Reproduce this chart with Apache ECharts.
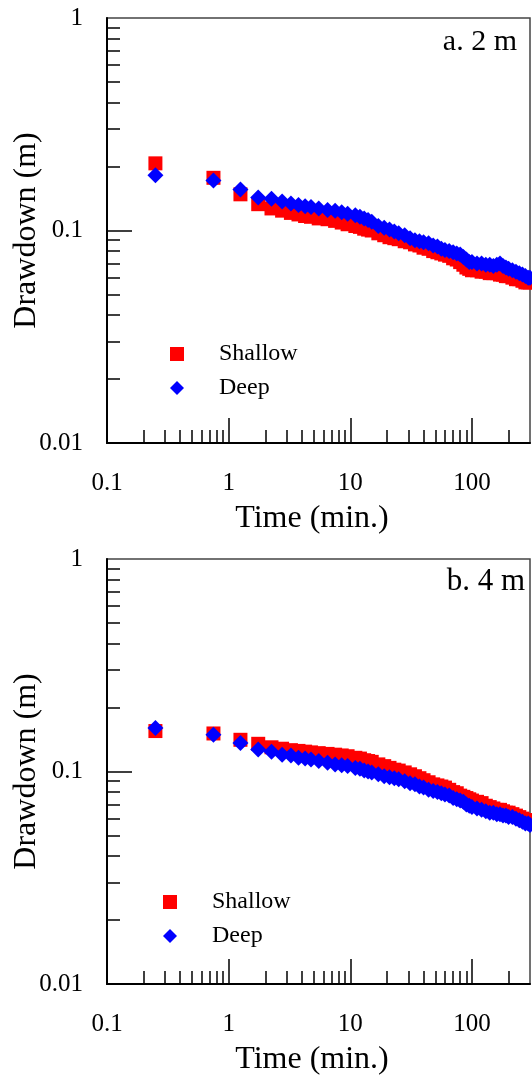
<!DOCTYPE html>
<html lang="en">
<head>
    <meta charset="UTF-8">
    <title>Drawdown - shallow / deep</title>
    <style>
        html, body { margin: 0; padding: 0; background: #fff; }
        #main { width: 532px; height: 1076px; }
    </style>
    <script src="https://cdn.jsdelivr.net/npm/echarts@6/dist/echarts.min.js"></script>
</head>
<body>
<div id="main"></div>
<script type="text/javascript">
    // time (min.) shared by both panels
    var times = [0.25, 0.75, 1.25, 1.75, 2.25, 2.75, 3.25, 3.75, 4.25, 4.75,
        5.5, 6.5, 7.5, 8.5, 9.5, 11, 12, 13, 14, 15,
        17, 19, 21, 23, 25, 28, 31, 34, 37, 40,
        44, 48, 52, 56, 60, 65, 70, 75, 80, 85,
        90, 95, 100, 110, 120, 130, 140, 150, 160, 170,
        180, 190, 200, 215, 230, 245, 260, 275, 290, 300];

    // a. 2 m
    var shallowA = [0.207, 0.177, 0.148, 0.133, 0.127, 0.124, 0.121, 0.119, 0.117, 0.116,
        0.114, 0.113, 0.111, 0.109, 0.107, 0.105, 0.104, 0.102, 0.101, 0.100,
        0.097, 0.095, 0.093, 0.092, 0.091, 0.089, 0.088, 0.086, 0.085, 0.083,
        0.082, 0.080, 0.079, 0.078, 0.077, 0.076, 0.074, 0.073, 0.071, 0.069,
        0.067, 0.066, 0.065, 0.065, 0.064, 0.064, 0.063, 0.063, 0.063, 0.062,
        0.062, 0.061, 0.061, 0.060, 0.059, 0.059, 0.058, 0.057, 0.057, 0.057];
    var deepA = [0.182, 0.172, 0.156, 0.143, 0.141, 0.137, 0.134, 0.132, 0.130, 0.129,
        0.127, 0.125, 0.124, 0.122, 0.120, 0.118, 0.116, 0.114, 0.112, 0.110,
        0.105, 0.103, 0.101, 0.099, 0.097, 0.095, 0.092, 0.090, 0.089, 0.088,
        0.087, 0.085, 0.084, 0.082, 0.081, 0.080, 0.079, 0.078, 0.077, 0.075,
        0.073, 0.071, 0.071, 0.070, 0.070, 0.069, 0.069, 0.068, 0.069, 0.070,
        0.068, 0.067, 0.066, 0.065, 0.064, 0.063, 0.062, 0.061, 0.060, 0.060];

    // b. 4 m
    var shallowB = [0.155, 0.151, 0.141, 0.135, 0.130, 0.128, 0.126, 0.125, 0.124, 0.123,
        0.122, 0.121, 0.120, 0.119, 0.118, 0.116, 0.115, 0.113, 0.112, 0.111,
        0.108, 0.106, 0.104, 0.102, 0.101, 0.099, 0.097, 0.095, 0.093, 0.091,
        0.089, 0.087, 0.086, 0.085, 0.084, 0.082, 0.080, 0.079, 0.077, 0.076,
        0.075, 0.074, 0.073, 0.072, 0.071, 0.069, 0.068, 0.067, 0.066, 0.066,
        0.065, 0.064, 0.064, 0.063, 0.062, 0.061, 0.060, 0.059, 0.059, 0.058];
    var deepB = [0.160, 0.149, 0.136, 0.127, 0.124, 0.120, 0.119, 0.116, 0.115, 0.114,
        0.112, 0.110, 0.108, 0.107, 0.106, 0.104, 0.103, 0.101, 0.100, 0.099,
        0.097, 0.095, 0.094, 0.093, 0.092, 0.090, 0.088, 0.087, 0.085, 0.084,
        0.082, 0.081, 0.080, 0.079, 0.078, 0.077, 0.075, 0.074, 0.073, 0.072,
        0.070, 0.069, 0.068, 0.067, 0.066, 0.065, 0.064, 0.064, 0.063, 0.063,
        0.062, 0.062, 0.061, 0.061, 0.060, 0.059, 0.058, 0.057, 0.057, 0.056];

    // tick labels / tick marks
    var xLabels = [0.1, 1, 10, 100];
    var xMajor = [1, 10, 100];
    var xMinor = [0.2, 0.3, 0.4, 0.5, 0.6, 0.7, 0.8, 0.9, 2, 3, 4, 5, 6, 7, 8, 9,
        20, 30, 40, 50, 60, 70, 80, 90, 200];
    var yLabels = [0.01, 0.1, 1];
    var yMajor = [0.1];
    var yMinor = [0.02, 0.03, 0.04, 0.05, 0.06, 0.07, 0.08, 0.09,
        0.2, 0.3, 0.4, 0.5, 0.6, 0.7, 0.8, 0.9];

    var FONT = 'Liberation Serif';

    function pairs(vals) {
        return times.map(function (t, i) { return [t, vals[i]]; });
    }

    function xAxes(gridIndex) {
        return [{
            type: 'log', logBase: 10, gridIndex: gridIndex, min: 0.1, max: 300, position: 'bottom',
            name: 'Time (min.)', nameLocation: 'middle', nameGap: 60,
            nameTextStyle: { fontFamily: FONT, fontSize: 32, color: '#000', padding: [0, 13, 0, 0] },
            axisLine: { show: true, lineStyle: { color: '#000', width: 2 } },
            axisTick: { show: true, inside: true, length: 13, customValues: xMinor, lineStyle: { color: '#000', width: 1.5 } },
            axisLabel: { customValues: xLabels, fontFamily: FONT, fontSize: 25, color: '#000', margin: 28 },
            splitLine: { show: false }
        }, {
            type: 'log', logBase: 10, gridIndex: gridIndex, min: 0.1, max: 300, position: 'bottom', offset: 0,
            axisLine: { show: false },
            axisTick: { show: true, inside: true, length: 25, customValues: xMajor, lineStyle: { color: '#000', width: 1.5 } },
            axisLabel: { show: false },
            splitLine: { show: false }
        }];
    }

    function yAxes(gridIndex) {
        return [{
            type: 'log', logBase: 10, gridIndex: gridIndex, min: 0.01, max: 1, position: 'left',
            name: 'Drawdown (m)', nameLocation: 'middle', nameGap: 64, nameMoveOverlap: false,
            nameTextStyle: { fontFamily: FONT, fontSize: 32, color: '#000' },
            axisLine: { show: true, lineStyle: { color: '#000', width: 2 } },
            axisTick: { show: true, inside: true, length: 13, customValues: yMinor, lineStyle: { color: '#000', width: 1.5 } },
            axisLabel: { customValues: yLabels, fontFamily: FONT, fontSize: 25, color: '#000', margin: 24 },
            splitLine: { show: false }
        }, {
            type: 'log', logBase: 10, gridIndex: gridIndex, min: 0.01, max: 1, position: 'left', offset: 0,
            axisLine: { show: false },
            axisTick: { show: true, inside: true, length: 25, customValues: yMajor, lineStyle: { color: '#000', width: 1.5 } },
            axisLabel: { show: false },
            splitLine: { show: false }
        }];
    }

    function legendFor(left, top) {
        return {
            data: ['Shallow', 'Deep'], orient: 'vertical', left: left, top: top, padding: 0,
            itemWidth: 14, itemHeight: 14, itemGap: 10, selectedMode: false,
            textStyle: { fontFamily: FONT, fontSize: 24, color: '#000', lineHeight: 20, padding: [0, 0, 0, 30] }
        };
    }

    function scatter(name, vals, axisIndex, symbol, color, size) {
        return {
            name: name, type: 'scatter', xAxisIndex: axisIndex, yAxisIndex: axisIndex,
            symbol: symbol, symbolSize: size, data: pairs(vals),
            itemStyle: { color: color, opacity: 1 },
            clip: true, silent: true
        };
    }

    function gridAt(top) {
        return {
            left: 107, top: top, width: 423, height: 425, show: true,
            borderColor: '#444', borderWidth: 1.5, backgroundColor: 'transparent',
            containLabel: false, outerBoundsMode: 'none'
        };
    }

    var myChart = echarts.init(document.getElementById('main'));
    var option = {
        backgroundColor: '#fff',
        animation: false,
        title: [
            { text: 'a. 2 m', right: 15, top: 27, padding: 0, textStyle: { fontFamily: FONT, fontSize: 30, fontWeight: 'normal', color: '#000' } },
            { text: 'b. 4 m', right: 7, top: 566, padding: 0, textStyle: { fontFamily: FONT, fontSize: 31, fontWeight: 'normal', color: '#000' } }
        ],
        grid: [gridAt(18), gridAt(559)],
        xAxis: xAxes(0).concat(xAxes(1)),
        yAxis: yAxes(0).concat(yAxes(1)),
        legend: [legendFor(170, 342), legendFor(163, 890)],
        series: [
            scatter('Shallow', shallowA, 0, 'rect', '#ff0000', 14),
            scatter('Deep', deepA, 0, 'diamond', '#0000ff', 16),
            scatter('Shallow', shallowB, 2, 'rect', '#ff0000', 14),
            scatter('Deep', deepB, 2, 'diamond', '#0000ff', 16)
        ]
    };
    myChart.setOption(option);
</script>
</body>
</html>
